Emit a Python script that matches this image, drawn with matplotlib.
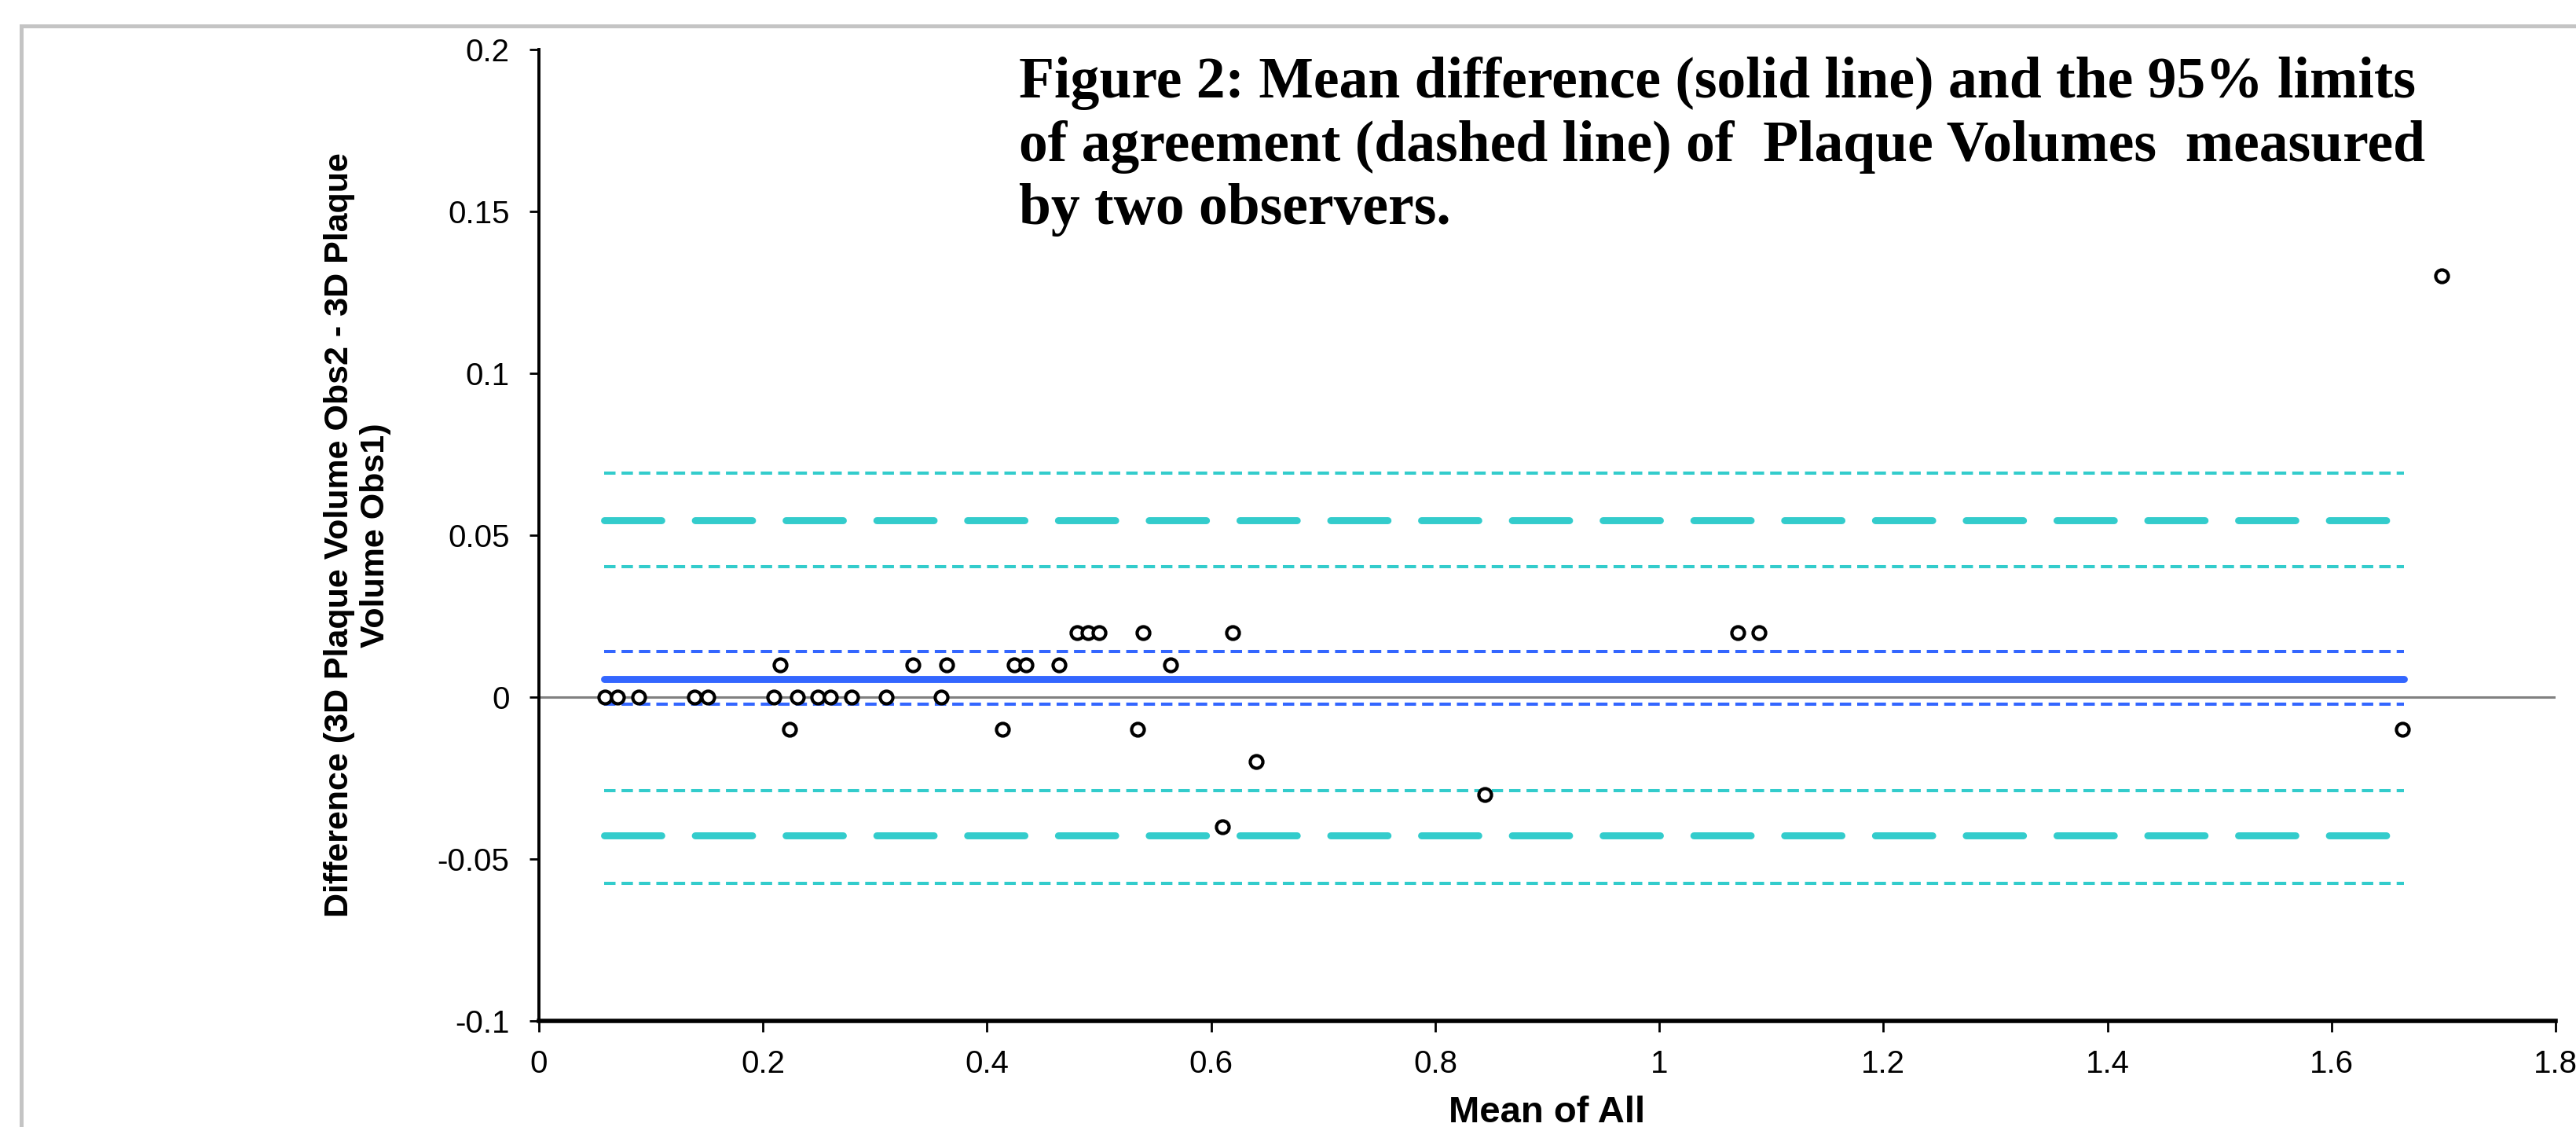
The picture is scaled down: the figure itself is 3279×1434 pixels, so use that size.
import matplotlib.pyplot as plt
from matplotlib.patches import Rectangle

# mean of the two observers (x) and difference Obs2 - Obs1 (y)
mean_all = [0.059, 0.070, 0.089, 0.139, 0.151, 0.210, 0.231, 0.249, 0.260, 0.279, 0.310, 0.359,
            0.215, 0.334, 0.364, 0.424, 0.435, 0.464, 0.564,
            0.480, 0.490, 0.500, 0.539, 0.619, 1.070, 1.089,
            0.224, 0.414, 0.534, 1.663,
            0.640, 0.844, 0.610, 1.698]
diff = [0, 0, 0, 0, 0, 0, 0, 0, 0, 0, 0, 0,
        0.01, 0.01, 0.01, 0.01, 0.01, 0.01, 0.01,
        0.02, 0.02, 0.02, 0.02, 0.02, 0.02, 0.02,
        -0.01, -0.01, -0.01, -0.01,
        -0.02, -0.03, -0.04, 0.13]

line_x = [0.058, 1.665]
mean_diff = 0.0056
mean_ci = [-0.0022, 0.0140]
loa = [-0.0428, 0.0545]
loa_ci = [-0.0575, -0.0288, 0.0404, 0.0692]

xticks = [0, 0.2, 0.4, 0.6, 0.8, 1, 1.2, 1.4, 1.6, 1.8]
yticks = [-0.1, -0.05, 0, 0.05, 0.1, 0.15, 0.2]

title = ("Figure 2: Mean difference (solid line) and the 95% limits\n"
         "of agreement (dashed line) of  Plaque Volumes  measured\n"
         "by two observers.")

blue = "#3366ff"
cyan = "#33cccc"

plt.rcParams['font.family'] = ['Liberation Sans', 'DejaVu Sans']

fig = plt.figure(figsize=(16.4, 7.17), dpi=200)
ax = fig.add_axes([686 / 3280, 1 - 1299 / 1434, (3253 - 686) / 3280, (1299 - 63) / 1434])

# outer frame of the pasted chart
fig.patches.append(Rectangle((27 / 3280, -0.2), 1.2, 1.2 - 33 / 1434,
                             transform=fig.transFigure, fill=False,
                             edgecolor="#c4c4c4", lw=1.8))

ax.axhline(0, color="#808080", lw=1.1, zorder=1)

for y in loa_ci:
    ax.plot(line_x, [y, y], color=cyan, lw=1.45, dashes=(3.6, 1.9), zorder=2)
for y in loa:
    ax.plot(line_x, [y, y], color=cyan, lw=3.2, dashes=(8.2, 4.8),
            dash_capstyle="round", zorder=2)
for y in mean_ci:
    ax.plot(line_x, [y, y], color=blue, lw=1.45, dashes=(3.6, 1.9), zorder=2)
ax.plot(line_x, [mean_diff, mean_diff], color=blue, lw=3.2,
        solid_capstyle="round", zorder=3)

ax.plot(mean_all, diff, ls="none", marker="o", ms=5.8, mfc="white",
        mec="black", mew=1.5, zorder=4)

ax.set_xlim(0, 1.8)
ax.set_ylim(-0.1, 0.2)
ax.set_xticks(xticks)
ax.set_xticklabels([f"{t:g}" for t in xticks])
ax.set_yticks(yticks)
ax.set_yticklabels([f"{t:g}" for t in yticks])

ax.spines["top"].set_visible(False)
ax.spines["right"].set_visible(False)
ax.spines["left"].set_linewidth(1.4)
ax.spines["bottom"].set_linewidth(2.0)
ax.tick_params(axis="y", length=4.5, width=1.0, pad=9, labelsize=14.5)
ax.tick_params(axis="x", length=5.0, width=1.0, pad=8, labelsize=14.5)

ax.set_xlabel("Mean of All", fontsize=17, fontweight="bold")
ax.xaxis.set_label_coords(0.5, -0.077)
ax.xaxis.label.set_va("top")

fig.text(455 / 3280, 1 - 681 / 1434,
         "Difference (3D Plaque Volume Obs2 - 3D Plaque\nVolume Obs1)",
         rotation=90, ha="center", va="center", fontsize=15.5,
         fontweight="bold", linespacing=1.17)

fig.text(1297 / 3280, 1 - 72 / 1434, title, ha="left", va="top",
         family="Liberation Serif", fontweight="bold", fontsize=26.5,
         linespacing=1.245)

fig.savefig("out.png", dpi=200)
